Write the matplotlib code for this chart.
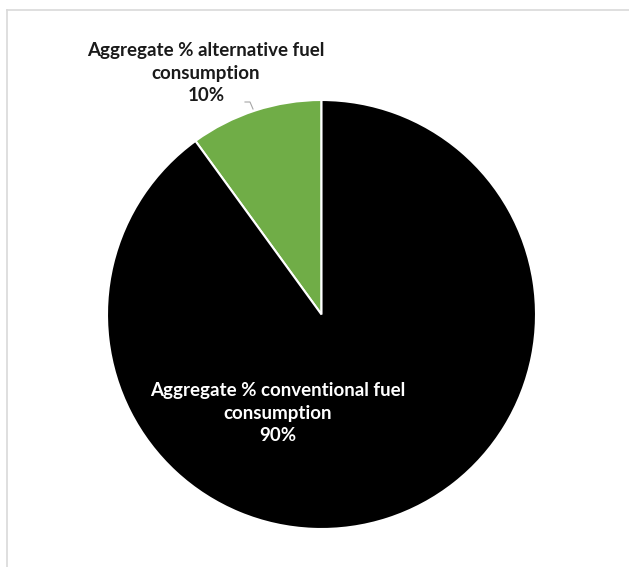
import matplotlib
matplotlib.use("Agg")
import matplotlib.pyplot as plt
from matplotlib.lines import Line2D

# Fuel consumption shares (%)
categories = ["Aggregate % alternative fuel\nconsumption",
              "Aggregate % conventional fuel\nconsumption"]
shares = [10, 90]
colors = ["#70AD47", "#000000"]

W, H = 629, 567
fig = plt.figure(figsize=(W / 100, H / 100), dpi=100)
ax = fig.add_axes([0, 0, 1, 1])

cx, cy, r = 321.5, H - 314.5, 214.5
ax.pie(shares, colors=colors, startangle=90, counterclock=True,
       center=(cx, cy), radius=r,
       wedgeprops=dict(edgecolor="white", linewidth=1.5))
ax.set_xlim(0, W)
ax.set_ylim(0, H)
ax.set_aspect("equal")
ax.axis("off")

font = dict(family=["Lato", "DejaVu Sans"], fontweight="bold", fontsize=13.5,
            ha="center", va="center", linespacing=1.42)

# outside label for the small slice, with a short leader line
ax.text(206, H - 73, f"{categories[0]}\n{shares[0]}%", color="#1a1a1a", **font)
ax.plot([245, 250, 253], [H - 102, H - 102, H - 109], color="#a6a6a6", lw=0.8)

# inside label for the large slice
ax.text(278, H - 413, f"{categories[1]}\n{shares[1]}%", color="white", **font)

# light frame along the top and left edges
fig.add_artist(Line2D([7 / W, 1], [1 - 10 / H, 1 - 10 / H], color="#d9d9d9", lw=1.2))
fig.add_artist(Line2D([7 / W, 7 / W], [0, 1 - 10 / H], color="#d9d9d9", lw=1.2))

fig.savefig("out.png", dpi=100)
